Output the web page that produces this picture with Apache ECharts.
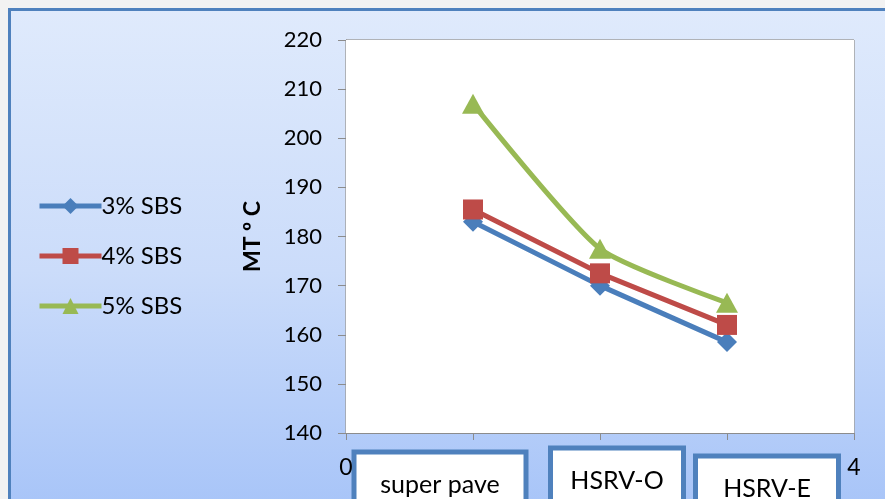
<!DOCTYPE html>
<html>
<head>
<meta charset="utf-8">
<script src="https://cdn.jsdelivr.net/npm/echarts@6/dist/echarts.min.js"></script>
<style>
html,body{margin:0;padding:0;width:885px;height:499px;overflow:hidden;background:#f2f2f2;}
#frame{position:absolute;left:8px;top:8px;width:900px;height:520px;border-left:3px solid #4f81bd;border-top:3px solid #4f81bd;background:linear-gradient(to bottom,#dfeafc 0%,#cbdcfa 50%,#a4c2f8 100%);}
#main{position:absolute;left:0;top:0;width:885px;height:499px;}
</style>
</head>
<body>
<div id="frame"></div>
<div id="main"></div>
<script>
// Data
const categories = ['super pave', 'HSRV-O', 'HSRV-E'];
const categoryPositions = [1, 2, 3];
const seriesNames = ['3% SBS', '4% SBS', '5% SBS'];
const sbs3 = [183, 170, 158.5];
const sbs4 = [185.5, 172.5, 162];
const sbs5 = [207, 177.5, 166.5];
const yTicks = [140, 150, 160, 170, 180, 190, 200, 210, 220];
const xEndLabels = [0, 4];

// styles
const colors = ['#4a7ebb', '#be4b48', '#98b954'];
const symbols = ['diamond', 'rect', 'triangle'];
const symbolSizes = [[20, 20], [20, 20], [22, 20]];
const boxStyle = [ {dx: -33, top: 452, w: 172}, {dx: 17, top: 448, w: 133}, {dx: 40, top: 456, w: 143} ];

const chart = echarts.init(document.getElementById('main'));
const font = 'Lato, "Open Sans", sans-serif';

const allSeries = [sbs3, sbs4, sbs5].map((vals, i) => ({
  name: seriesNames[i],
  type: 'line',
  data: vals.map((v, j) => [categoryPositions[j], v]),
  symbol: symbols[i],
  symbolSize: symbolSizes[i],
  smooth: i === 2 ? 0.2 : false,
  itemStyle: { color: colors[i] },
  lineStyle: { color: colors[i], width: 5 },
  z: 3 + i
}));

chart.setOption({
  backgroundColor: 'transparent',
  animation: false,
  grid: { left: 346, top: 40, width: 508, height: 393 },
  legend: {
    orient: 'vertical',
    left: 37,
    top: 194,
    padding: 0,
    itemWidth: 62,
    itemHeight: 20,
    itemGap: 26,
    lineStyle: { width: 5 },
    textStyle: { fontFamily: font, fontSize: 24, color: '#000', lineHeight: 23, padding: [0, 0, 0, -5] },
    data: seriesNames
  },
  xAxis: {
    type: 'value',
    min: 0, max: 4, interval: 1,
    axisLine: { show: true, lineStyle: { color: '#8c8c8c', width: 1 } },
    axisTick: { show: true, length: 7, lineStyle: { color: '#8c8c8c' } },
    splitLine: { show: true, lineStyle: { color: '#a0a0a0', width: 1.5 } },
    axisLabel: {
      margin: 23,
      fontFamily: font, fontSize: 23, color: '#000',
      formatter: v => (xEndLabels.indexOf(v) >= 0 ? String(v) : '')
    }
  },
  yAxis: {
    type: 'value',
    min: yTicks[0], max: yTicks[yTicks.length - 1], interval: 10,
    name: 'MT º C',
    nameLocation: 'middle',
    nameGap: 82,
    nameTextStyle: { fontFamily: font, fontSize: 23, fontWeight: 'bold', color: '#000' },
    axisLine: { show: true, lineStyle: { color: '#8c8c8c', width: 1 } },
    axisTick: { show: true, length: 8, lineStyle: { color: '#8c8c8c' } },
    splitLine: { show: true, lineStyle: { color: '#a0a0a0', width: 1.5 } },
    axisLabel: { margin: 24, fontFamily: font, fontSize: 22, color: '#000' }
  },
  series: allSeries.concat([{
    type: 'line', data: [], silent: true,
    markArea: {
      silent: true,
      itemStyle: { color: '#ffffff' },
      data: [[{ coord: [0, yTicks[0]] }, { coord: [4, yTicks[yTicks.length - 1]] }]]
    },
    z: 0
  }])
});

// category boxes placed from the axis scale
const graphics = categories.map((c, i) => {
  const cx = chart.convertToPixel({ xAxisIndex: 0 }, categoryPositions[i]) + boxStyle[i].dx;
  const top = boxStyle[i].top;
  return {
    type: 'group',
    z: 100,
    children: [
      { type: 'rect', shape: { x: cx - boxStyle[i].w / 2, y: top, width: boxStyle[i].w, height: 80 },
        style: { fill: '#ffffff', stroke: '#4f81bd', lineWidth: 5 } },
      { type: 'text', x: cx, y: top + 33,
        style: { text: c, fontFamily: font, fontSize: 25, fill: '#000', align: 'center', verticalAlign: 'middle' } }
    ]
  };
});
chart.setOption({ graphic: graphics });
</script>
</body>
</html>
